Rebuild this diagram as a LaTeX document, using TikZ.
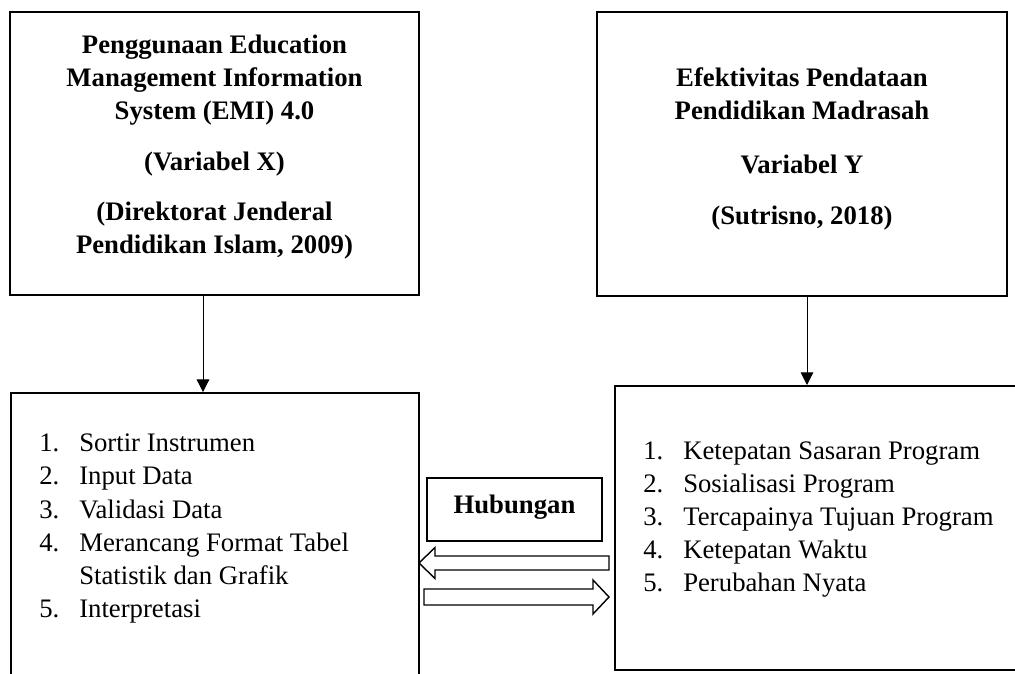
\documentclass[tikz,border=0pt]{standalone}
\usepackage{fontspec}
\setmainfont{Liberation Serif}
\usetikzlibrary{arrows.meta,positioning}

\newcommand\diagfont{\fontsize{19pt}{23.6pt}\selectfont}

\begin{document}
\begin{tikzpicture}[
  x=0.025cm, y=-0.025cm,
  box/.style={draw, line width=1.3pt, inner sep=0pt},
  txt/.style={inner sep=0pt, font=\diagfont},
  arrow/.style={-{Triangle[length=9pt, width=9pt]}, line width=0.7pt},
  blockarrow/.style={draw, line width=1pt, line join=miter, fill=white}
]
\useasboundingbox (0,0) rectangle (1015,673);
\clip (0,0) rectangle (1015,673);

% boxes
\node[box, minimum width=10.225cm, minimum height=7.075cm] (varx) at (214.5,153.5) {};
\node[box, minimum width=10.25cm, minimum height=7.1cm] (vary) at (802,154) {};
\node[box, minimum width=10.2cm, minimum height=7.675cm] (indx) at (215,546.5) {};
\node[box, minimum width=10.9cm, minimum height=7.1cm, anchor=north west] (indy) at (614,385) {};
\node[box, minimum width=4.375cm, minimum height=1.575cm, font=\diagfont\bfseries,
  text height=13pt, text depth=8pt] (hub) at (514.5,509.5) {Hubungan};

% texts
\node[txt, anchor=base] (varxtext) at (214.5,53) {\bfseries
  \begin{tabular}[t]{c}
  Penggunaan Education\\
  Management Information\\
  System (EMI) 4.0\\[0.45cm]
  (Variabel X)\\[0.42cm]
  (Direktorat Jenderal\\
  Pendidikan Islam, 2009)
  \end{tabular}};
\node[txt, anchor=base] (varytext) at (802,86) {\bfseries
  \begin{tabular}[t]{c}
  Efektivitas Pendataan\\
  Pendidikan Madrasah\\[0.52cm]
  Variabel Y\\[0.45cm]
  (Sutrisno, 2018)
  \end{tabular}};
\node[txt, anchor=base west] (indxtext) at (39,451.7) {%
  \begin{tabular}[t]{@{}p{1cm}@{}l@{}}
  1. & Sortir Instrumen\\
  2. & Input Data\\
  3. & Validasi Data\\
  4. & Merancang Format Tabel\\
     & Statistik dan Grafik\\
  5. & Interpretasi
  \end{tabular}};
\node[txt, anchor=base west] (indytext) at (643,459) {%
  \begin{tabular}[t]{@{}p{1cm}@{}l@{}}
  1. & Ketepatan Sasaran Program\\
  2. & Sosialisasi Program\\
  3. & Tercapainya Tujuan Program\\
  4. & Ketepatan Waktu\\
  5. & Perubahan Nyata
  \end{tabular}};

% arrows
\draw[arrow] ([xshift=-0.2875cm]varx.south) -- ([xshift=-0.2875cm]varx.south |- indx.north);
\draw[arrow] ([xshift=0.125cm]vary.south) -- ([xshift=0.125cm]vary.south |- indy.north);

% block arrows
\coordinate (ltip) at (419,563);
\coordinate (rtip) at (609,597);
\path[blockarrow] (ltip) -- ++(16,-15.5) -- ++(0,8.5) -- ++(174,0) -- ++(0,14)
  -- ++(-174,0) -- ++(0,8.5) -- cycle;
\path[blockarrow] (rtip) -- ++(-16,-17) -- ++(0,9) -- ++(-169,0) -- ++(0,16)
  -- ++(169,0) -- ++(0,9) -- cycle;
\end{tikzpicture}
\end{document}
